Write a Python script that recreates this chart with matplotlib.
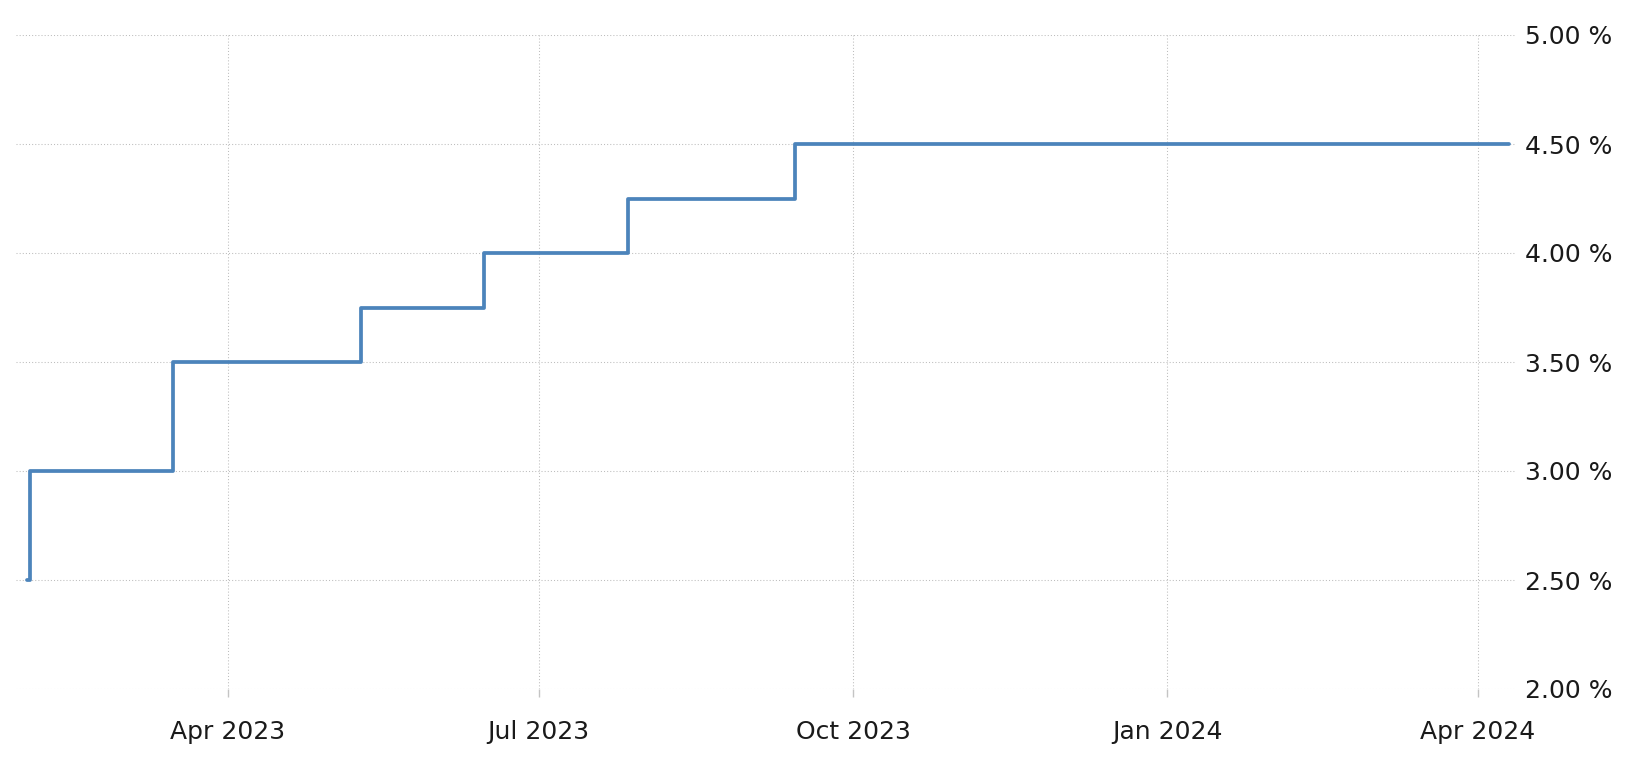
import matplotlib
matplotlib.use("Agg")
import matplotlib.pyplot as plt
import pandas as pd

# rate decisions (step changes)
dates = ["2023-02-01", "2023-02-02", "2023-03-16", "2023-05-10",
         "2023-06-15", "2023-07-27", "2023-09-14", "2024-04-10"]
rates = [2.50, 3.00, 3.50, 3.75, 4.00, 4.25, 4.50, 4.50]

y_ticks = [2.0, 2.5, 3.0, 3.5, 4.0, 4.5, 5.0]
x_ticks = ["2023-04-01", "2023-07-01", "2023-10-01", "2024-01-01", "2024-04-01"]
x_tick_labels = ["Apr 2023", "Jul 2023", "Oct 2023", "Jan 2024", "Apr 2024"]

x = pd.to_datetime(dates)

fig = plt.figure(figsize=(16.31, 7.57), dpi=100)
ax = fig.add_axes([16.3 / 1631, 68 / 757, 1499.2 / 1631, 654 / 757])

ax.step(x, rates, where="post", color="#4c84bb", linewidth=2.7,
        solid_joinstyle="round", solid_capstyle="round", zorder=3)

ax.set_xlim(pd.Timestamp("2023-01-29"), pd.Timestamp("2024-04-12"))
ax.set_ylim(2.0, 5.0)

ax.set_yticks(y_ticks)
ax.set_yticklabels([f"{v:.2f} %" for v in y_ticks])
ax.set_xticks(pd.to_datetime(x_ticks))
ax.set_xticklabels(x_tick_labels)

ax.yaxis.tick_right()
for s in ax.spines.values():
    s.set_visible(False)

ax.grid(True, color="#bdbdbd", linewidth=0.75, linestyle=(0, (1, 2)))
ax.tick_params(axis="y", length=0, pad=7, labelsize=18, labelcolor="#1a1a1a")
ax.tick_params(axis="x", length=6, width=1, color="#c4c4c4", pad=16,
               labelsize=18, labelcolor="#1a1a1a")

fig.savefig("out.png", dpi=100, facecolor="white")
